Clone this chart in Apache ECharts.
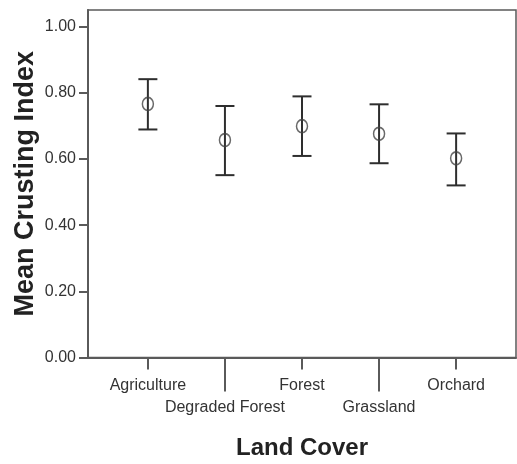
<!DOCTYPE html>
<html>
<head>
<meta charset="utf-8">
<script src="https://cdn.jsdelivr.net/npm/echarts@6/dist/echarts.min.js"></script>
<style>
  html, body { margin: 0; padding: 0; background: #fff; }
  #chart { width: 517px; height: 464px; }
</style>
</head>
<body>
<div id="chart"></div>
<script>
// Land cover classes along the x axis
const categories = ['Agriculture', 'Degraded Forest', 'Forest', 'Grassland', 'Orchard'];
// Mean crusting index per class
const means = [0.766, 0.657, 0.699, 0.676, 0.602];
// Lower and upper limits of the error bars
const lower = [0.689, 0.551, 0.609, 0.587, 0.520];
const upper = [0.841, 0.760, 0.789, 0.765, 0.677];
// Y axis tick values
const yTicks = [0, 0.2, 0.4, 0.6, 0.8, 1.0];

const FONT = "'Liberation Sans', Arial, sans-serif";
const AXIS_COLOR = '#5a5a5a';
const TEXT_COLOR = '#333';
const MARK_COLOR = '#2e2e2e';

// Categories alternate between a short-tick row and a long-tick (lower) row
const upperRow = categories.map((c, i) => i).filter(i => i % 2 === 0);
const lowerRow = categories.map((c, i) => i).filter(i => i % 2 === 1);
const PAD = 0.777;

const chart = echarts.init(document.getElementById('chart'), null, { renderer: 'canvas' });

const barData = categories.map((c, i) => [i, lower[i], upper[i]]);
const meanData = categories.map((c, i) => [i, means[i]]);

const xBase = {
  type: 'value',
  min: -PAD,
  max: categories.length - 1 + PAD,
  position: 'bottom',
  splitLine: { show: false },
  axisLine: { show: false, onZero: false },
  axisTick: { show: true, lineStyle: { color: AXIS_COLOR, width: 2 } },
  axisLabel: {
    show: true,
    color: TEXT_COLOR,
    fontFamily: FONT,
    fontSize: 16,
    formatter: v => categories[Math.round(v)]
  }
};

const option = {
  backgroundColor: '#fff',
  animation: false,
  grid: {
    left: 88,
    right: 1,
    top: 10,
    bottom: 106.5,
    outerBoundsMode: 'none',
    containLabel: false,
    show: true,
    borderColor: AXIS_COLOR,
    borderWidth: 1.5,
    backgroundColor: 'transparent'
  },
  xAxis: [
    Object.assign({}, xBase, {
      axisLine: { show: true, onZero: false, lineStyle: { color: AXIS_COLOR, width: 2 } },
      axisTick: { show: true, length: 12, customValues: upperRow, lineStyle: { color: AXIS_COLOR, width: 2 } },
      axisLabel: Object.assign({}, xBase.axisLabel, { customValues: upperRow, margin: 20 }),
      name: 'Land Cover',
      nameLocation: 'middle',
      nameGap: 79,
      nameMoveOverlap: false,
      nameTextStyle: { fontFamily: FONT, fontWeight: 'bold', fontSize: 24, color: '#222' }
    }),
    Object.assign({}, xBase, {
      axisTick: { show: true, length: 34, customValues: lowerRow, lineStyle: { color: AXIS_COLOR, width: 2 } },
      axisLabel: Object.assign({}, xBase.axisLabel, { customValues: lowerRow, margin: 42 })
    })
  ],
  yAxis: {
    type: 'value',
    min: 0,
    max: 1.05,
    splitLine: { show: false },
    axisLine: { show: true, onZero: false, lineStyle: { color: AXIS_COLOR, width: 2 } },
    axisTick: { show: true, length: 9, customValues: yTicks, lineStyle: { color: AXIS_COLOR, width: 2 } },
    axisLabel: {
      customValues: yTicks,
      margin: 12,
      color: TEXT_COLOR,
      fontFamily: FONT,
      fontSize: 16,
      formatter: v => v.toFixed(2)
    },
    name: 'Mean Crusting Index',
    nameLocation: 'middle',
    nameGap: 49,
    nameMoveOverlap: false,
    nameTextStyle: { fontFamily: FONT, fontWeight: 'bold', fontSize: 27, color: '#222' }
  },
  series: [
    {
      // error bars: vertical stem with horizontal caps
      type: 'custom',
      xAxisIndex: 0,
      data: barData,
      renderItem: function (params, api) {
        const x = api.value(0);
        const top = api.coord([x, api.value(2)]);
        const bot = api.coord([x, api.value(1)]);
        const half = 9.5;
        const style = { stroke: MARK_COLOR, lineWidth: 2, fill: null };
        return {
          type: 'group',
          children: [
            { type: 'line', shape: { x1: top[0], y1: top[1], x2: bot[0], y2: bot[1] }, style: style },
            { type: 'line', shape: { x1: top[0] - half, y1: top[1], x2: top[0] + half, y2: top[1] }, style: style },
            { type: 'line', shape: { x1: bot[0] - half, y1: bot[1], x2: bot[0] + half, y2: bot[1] }, style: style }
          ]
        };
      },
      z: 3
    },
    {
      // group means as hollow circles
      type: 'scatter',
      xAxisIndex: 0,
      data: meanData,
      symbol: 'circle',
      symbolSize: [11, 13],
      itemStyle: { color: 'transparent', borderColor: '#444', borderWidth: 1.6 },
      z: 4
    }
  ]
};

chart.setOption(option);
</script>
</body>
</html>
